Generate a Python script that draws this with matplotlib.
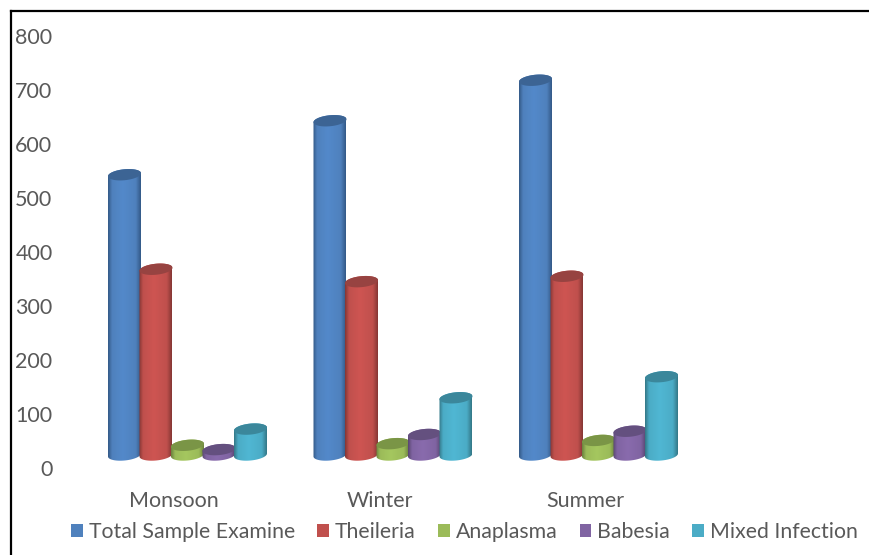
import matplotlib
matplotlib.use("Agg")
import matplotlib.pyplot as plt
import numpy as np
from matplotlib.colors import LinearSegmentedColormap
from matplotlib.lines import Line2D
from matplotlib.patches import Patch, PathPatch, Polygon
from matplotlib.path import Path

plt.rcParams['font.family'] = ['Lato', 'DejaVu Sans']

seasons = ["Monsoon", "Winter", "Summer"]
series_names = ["Total Sample Examine", "Theileria", "Anaplasma", "Babesia", "Mixed Infection"]
total_sample = [544, 644, 719]
theileria = [369, 346, 356]
anaplasma = [43, 46, 52]
babesia = [35, 63, 69]
mixed_infection = [73, 131, 170]
all_series = [total_sample, theileria, anaplasma, babesia, mixed_infection]

# main colour, dark edge, light middle, top cap
colors = ["#4F81BD", "#C0504D", "#9BBB59", "#8064A2", "#4BACC6"]
edge_colors = ["#345A88", "#863735", "#6C833E", "#594671", "#347888"]
light_colors = ["#5389CA", "#CE5552", "#A5C75F", "#896BAD", "#50B7D3"]
cap_colors = ["#3C6494", "#974341", "#7A9546", "#64507F", "#3B879B"]

W, H = 869, 555
fig = plt.figure(figsize=(W / 100, H / 100), dpi=100)

# plot area in pixels: x 71-688, y 36-468
ax = fig.add_axes([71.25 / W, 1 - 468.5 / H, 616.5 / W, 432 / H])

px_x = 3 / 616.5     # one pixel in x data units
px_y = 800 / 432     # one pixel in y data units
half_w = 16.5 * px_x
half_h = 5.5 * px_y
tilt = 1.5 * px_y
base = 13.5 * px_y   # bars stand a little above the zero label
first_offset = -49.5 * px_x
step = 31.5 * px_x

t = np.linspace(0, 2 * np.pi, 121)


def ellipse(cx, cy):
    return np.column_stack([cx + half_w * np.cos(t),
                            cy + half_h * np.sin(t) + tilt * np.cos(t)])


for i, values in enumerate(all_series):
    cmap = LinearSegmentedColormap.from_list(
        "c", [(0, edge_colors[i]), (0.12, colors[i]), (0.45, light_colors[i]),
              (0.85, colors[i]), (1, edge_colors[i])])
    for j, v in enumerate(values):
        cx = j + first_offset + i * step
        low = ellipse(cx, base)
        high = ellipse(cx, v)
        # lower half of the bottom ellipse, then up and over the top one
        lower = low[60:121]
        upper = high[:61]
        verts = np.vstack([lower, upper, lower[:1]])
        clip = PathPatch(Path(verts), transform=ax.transData, fc="none", ec="none")
        ax.add_patch(clip)
        img = ax.imshow(np.linspace(0, 1, 64).reshape(1, -1), cmap=cmap, aspect="auto",
                        extent=[cx - half_w, cx + half_w, 0, v + half_h + tilt],
                        zorder=2 + i, interpolation="bilinear")
        img.set_clip_path(clip)
        ax.add_patch(Polygon(high, closed=True, fc=cap_colors[i], ec="none", zorder=2 + i + 0.5))

ax.set_xlim(-0.5, 2.5)
ax.set_ylim(0, 800)
ax.set_xticks(range(len(seasons)))
ax.set_xticklabels(seasons)
ax.set_yticks(range(0, 801, 100))
ax.tick_params(axis="both", length=0, labelsize=15.5, labelcolor="#595959")
ax.tick_params(axis="y", pad=13.5)
ax.tick_params(axis="x", pad=16.3)
for s in ax.spines.values():
    s.set_visible(False)

handles = [Patch(facecolor=c, edgecolor="none") for c in colors]
fig.legend(handles, series_names, ncol=5, loc="center left",
           bbox_to_anchor=(71 / W, 1 - 532 / H), frameon=False,
           fontsize=15.3, labelcolor="#595959", handlelength=0.56, handleheight=0.56,
           handletextpad=0.27, columnspacing=1.05, borderpad=0, borderaxespad=0)

# black frame of the pasted picture
fig.add_artist(Line2D([10.5 / W, 10.5 / W], [0, 1 - 11 / H], color="black", lw=1.6))
fig.add_artist(Line2D([10.5 / W, 1], [1 - 11 / H, 1 - 11 / H], color="black", lw=1.6))

fig.savefig("out.png", dpi=100)
